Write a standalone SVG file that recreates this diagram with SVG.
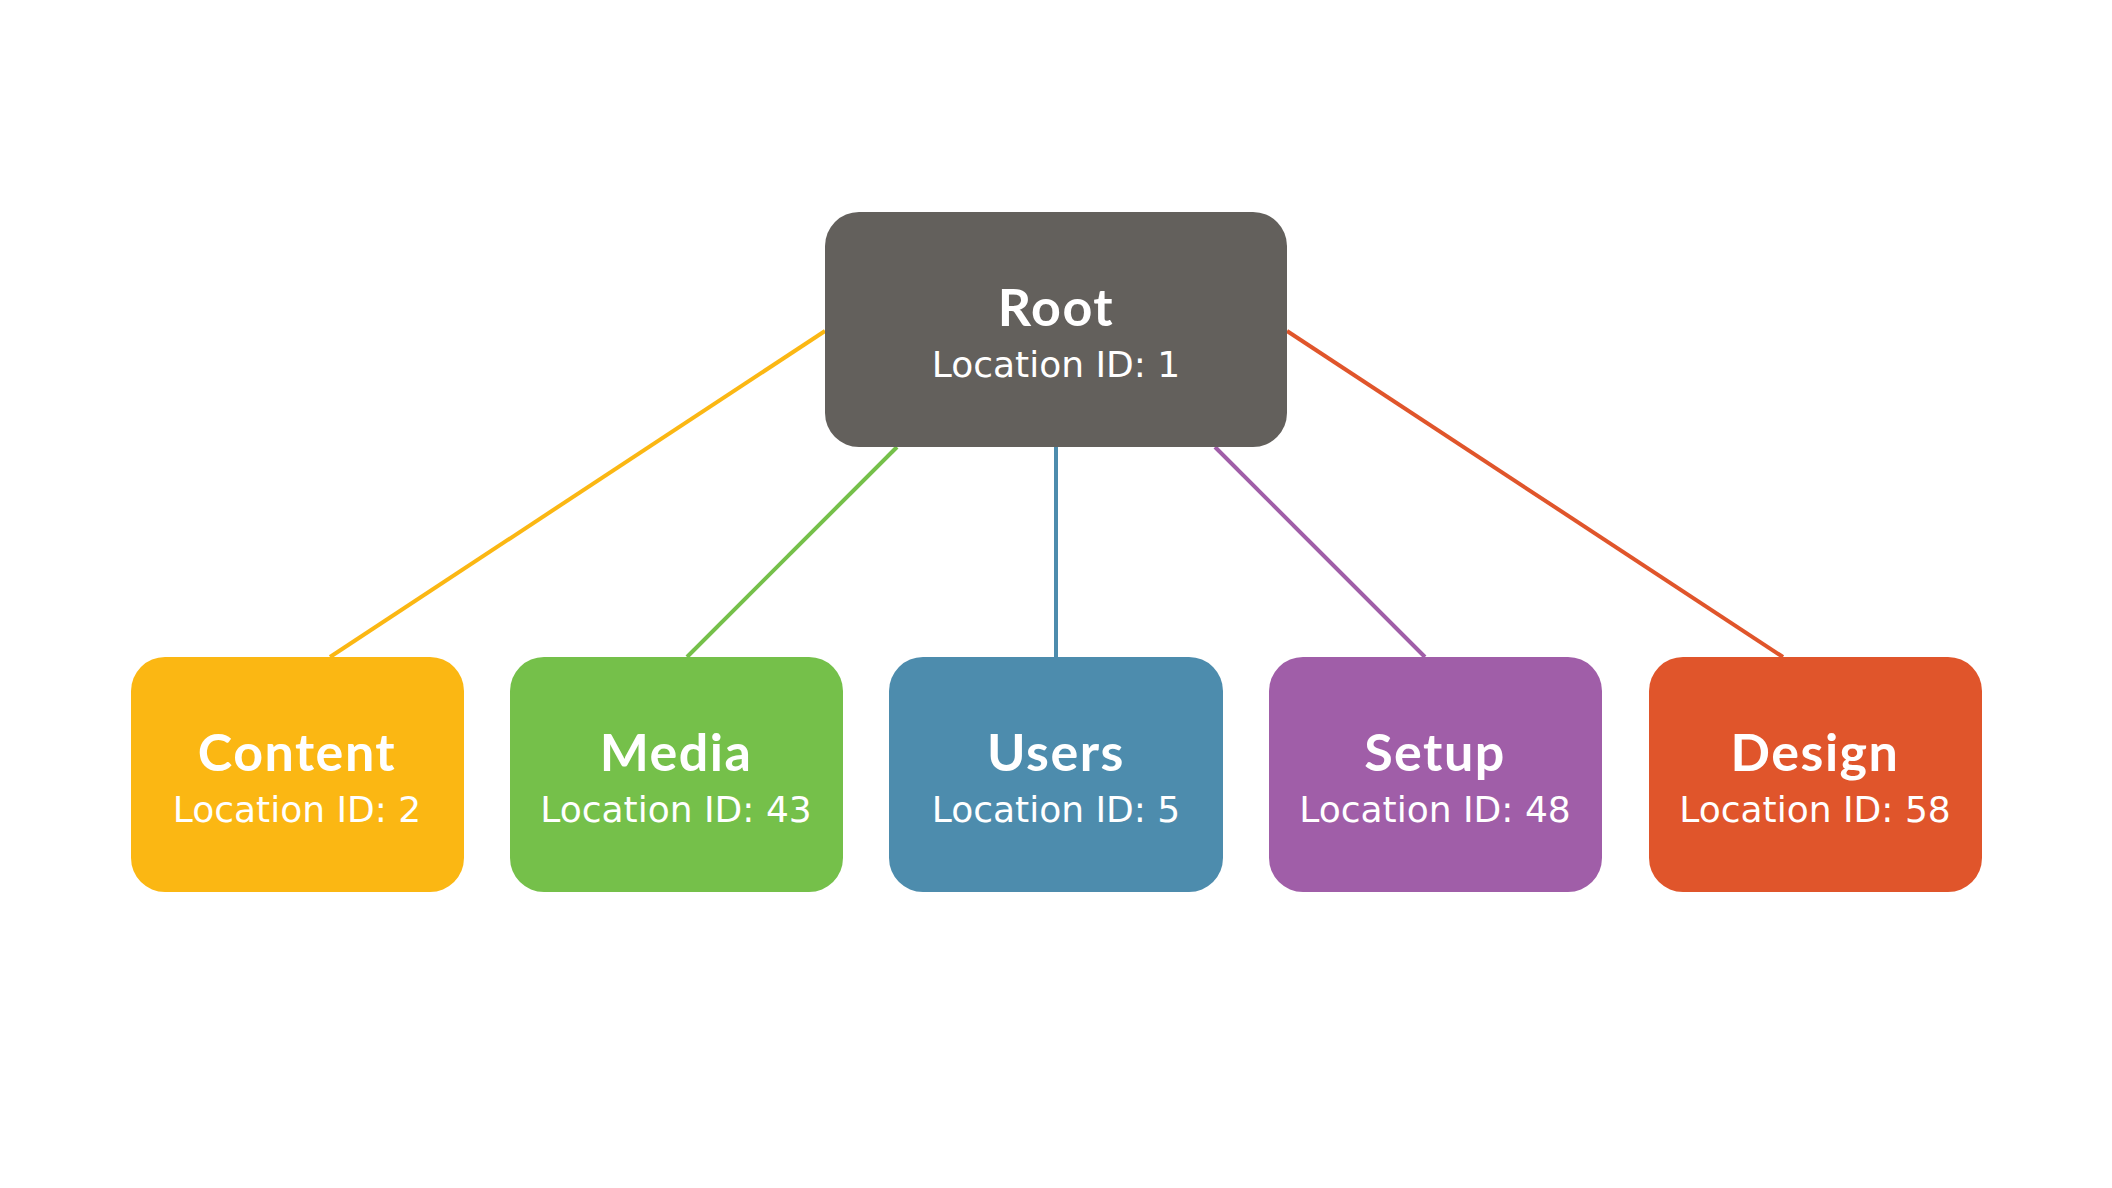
<svg xmlns="http://www.w3.org/2000/svg" width="2112" height="1188" viewBox="0 0 2112 1188">
<style>
.t{font-family:Lato,"Open Sans",sans-serif;font-weight:700;font-size:52px;letter-spacing:1.5px;fill:#fff;text-anchor:middle}
.s{font-family:"DejaVu Sans",sans-serif;font-size:36px;fill:#fff;text-anchor:middle}
.e{stroke-width:4;fill:none}
</style>
<rect width="2112" height="1188" fill="#fff"/>
<g id="connectors">
<line class="e" stroke="#FBB713" x1="825" y1="331" x2="330" y2="657"/>
<line class="e" stroke="#75C04A" x1="897" y1="447" x2="687" y2="657"/>
<line class="e" stroke="#4D8CAD" x1="1056" y1="447" x2="1056" y2="657"/>
<line class="e" stroke="#A05EA8" x1="1215" y1="447" x2="1425" y2="657"/>
<line class="e" stroke="#E0552B" x1="1287" y1="331" x2="1783" y2="657"/>
</g>
<g id="root">
<rect x="825" y="212" width="462" height="235" rx="34" fill="#63605C"/>
<text class="t" x="1056" y="326">Root</text>
<text class="s" x="1056" y="377">Location ID: 1</text>
</g>
<g id="content">
<rect x="131" y="657" width="333" height="235" rx="34" fill="#FBB713"/>
<text class="t" x="297" y="771">Content</text>
<text class="s" x="297" y="822">Location ID: 2</text>
</g>
<g id="media">
<rect x="510" y="657" width="333" height="235" rx="34" fill="#75C04A"/>
<text class="t" x="676" y="771">Media</text>
<text class="s" x="676" y="822">Location ID: 43</text>
</g>
<g id="users">
<rect x="889" y="657" width="334" height="235" rx="34" fill="#4D8CAD"/>
<text class="t" x="1056" y="771">Users</text>
<text class="s" x="1056" y="822">Location ID: 5</text>
</g>
<g id="setup">
<rect x="1269" y="657" width="333" height="235" rx="34" fill="#A05EA8"/>
<text class="t" x="1435" y="771">Setup</text>
<text class="s" x="1435" y="822">Location ID: 48</text>
</g>
<g id="design">
<rect x="1649" y="657" width="333" height="235" rx="34" fill="#E0552B"/>
<text class="t" x="1815" y="771">Design</text>
<text class="s" x="1815" y="822">Location ID: 58</text>
</g>
</svg>
